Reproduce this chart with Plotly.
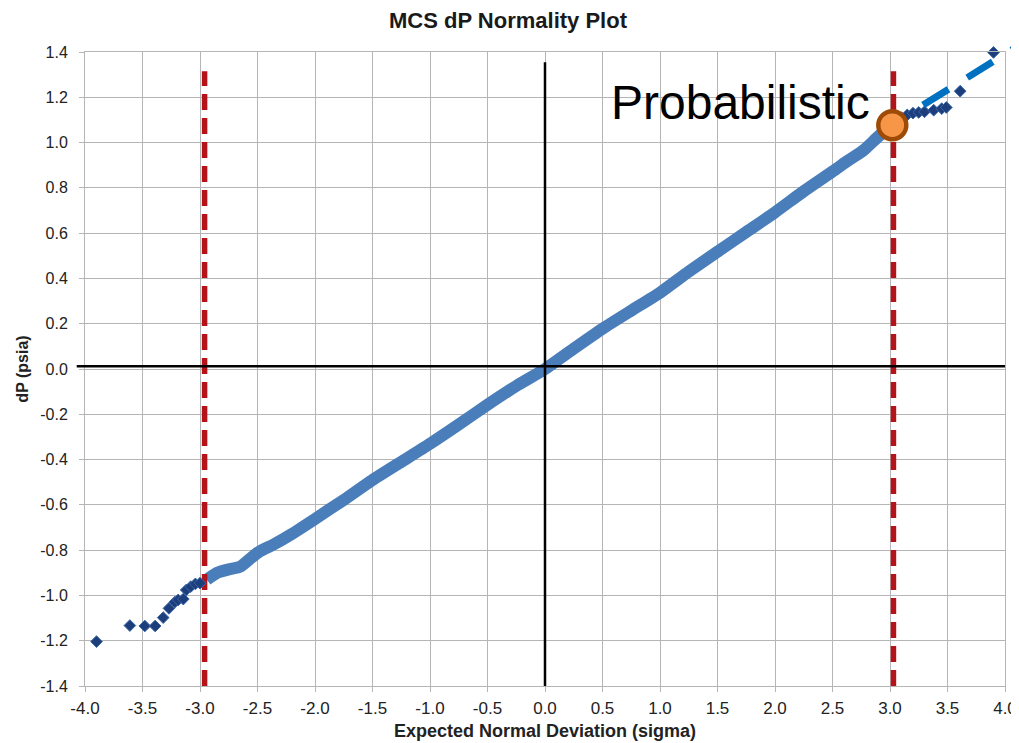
import plotly.graph_objects as go

# ---- data ----
band_x = [-2.94, -2.85, -2.75, -2.65, -2.57, -2.48, -2.36, -2.2, -2.0, -1.75, -1.5, -1.25,
          -1.0, -0.75, -0.5, -0.25, 0.0, 0.25, 0.5, 0.75, 1.0, 1.25, 1.5, 1.75, 2.0,
          2.25, 2.5, 2.62, 2.77, 2.88, 2.97]
band_y = [-0.93, -0.90, -0.885, -0.873, -0.84, -0.805, -0.775, -0.728, -0.662, -0.578, -0.49, -0.41,
          -0.33, -0.245, -0.158, -0.075, 0.0, 0.09, 0.178, 0.258, 0.337, 0.43, 0.518, 0.605, 0.692,
          0.785, 0.872, 0.915, 0.966, 1.018, 1.06]

tail_lo_x = [-3.90, -3.61, -3.48, -3.39, -3.32, -3.27, -3.22, -3.19, -3.145, -3.12, -3.08, -3.04, -3.0]
tail_lo_y = [-1.204, -1.133, -1.135, -1.135, -1.098, -1.057, -1.03, -1.02, -1.016, -0.976, -0.961, -0.949, -0.946]

tail_hi_x = [3.10, 3.15, 3.20, 3.25, 3.30, 3.38, 3.45, 3.49, 3.61, 3.90]
tail_hi_y = [1.11, 1.122, 1.13, 1.133, 1.136, 1.143, 1.15, 1.155, 1.227, 1.398]

sigma_lines_x = [-2.96, 3.03]
sigma_lines_y = [-1.4, 1.315]

point_x = [3.02]
point_y = [1.077]
point_label = "Probabilistic"

axis_cross_top = 1.355

x_ticks = [-4.0, -3.5, -3.0, -2.5, -2.0, -1.5, -1.0, -0.5, 0.0, 0.5, 1.0, 1.5, 2.0, 2.5, 3.0, 3.5, 4.0]
x_tick_labels = ["-4.0", "-3.5", "-3.0", "-2.5", "-2.0", "-1.5", "-1.0", "-0.5", "0.0", "0.5",
                 "1.0", "1.5", "2.0", "2.5", "3.0", "3.5", "4.0"]
y_ticks = [-1.4, -1.2, -1.0, -0.8, -0.6, -0.4, -0.2, 0.0, 0.2, 0.4, 0.6, 0.8, 1.0, 1.2, 1.4]
y_tick_labels = ["-1.4", "-1.2", "-1.0", "-0.8", "-0.6", "-0.4", "-0.2", "0.0", "0.2", "0.4",
                 "0.6", "0.8", "1.0", "1.2", "1.4"]

title_text = "MCS dP Normality Plot"
x_title = "Expected Normal Deviation (sigma)"
y_title = "dP (psia)"

GRID = "#B5B5B5"
SANS = "Liberation Sans, Arial, sans-serif"

fig = go.Figure()

# dense band of points
fig.add_trace(go.Scatter(x=band_x, y=band_y, mode="lines",
                         line=dict(color="#4A7EBB", width=12, shape="spline", smoothing=0.6),
                         hoverinfo="skip", showlegend=False))
# red +/- 3 sigma dashed lines
for sx in sigma_lines_x:
    fig.add_trace(go.Scatter(x=[sx, sx], y=sigma_lines_y, mode="lines",
                             line=dict(color="#B3141C", width=5.5, dash="16px,8px"),
                             showlegend=False))
# sparse tails
fig.add_trace(go.Scatter(x=tail_lo_x + tail_hi_x, y=tail_lo_y + tail_hi_y, mode="markers",
                         marker=dict(symbol="diamond", size=9, color="#1C3F7C",
                                     line=dict(color="#3A64A8", width=1)),
                         cliponaxis=False, showlegend=False))
# highlighted point
fig.add_trace(go.Scatter(x=point_x, y=point_y, mode="markers",
                         marker=dict(symbol="circle", size=28, color="#F79646",
                                     line=dict(color="#9E4B08", width=4.5)),
                         cliponaxis=False, showlegend=False))

fig.add_annotation(x=point_x[0] - 0.176, y=point_y[0] + 0.10, xref="x", yref="y",
                   text=point_label, showarrow=False, xanchor="right", yanchor="middle",
                   font=dict(family=SANS, size=48, color="#000000"))

# black axis-cross lines
fig.add_shape(type="line", xref="paper", yref="y", x0=-0.009, x1=1.0, y0=0.012, y1=0.012,
              line=dict(color="#000000", width=2.5), layer="above")
fig.add_shape(type="line", xref="x", yref="y", x0=0, x1=0, y0=-1.4, y1=axis_cross_top,
              line=dict(color="#000000", width=2.5), layer="above")
# blue dashed trend extension
fig.add_shape(type="line", xref="paper", yref="paper", x0=0.9109, y0=0.9164, x1=1.0272, y1=1.021,
              line=dict(color="#0070C0", width=7, dash="30px,22px"), layer="above")

fig.update_layout(
    width=1019, height=743,
    margin=dict(l=77, r=22, t=44, b=65, autoexpand=False),
    paper_bgcolor="#FFFFFF", plot_bgcolor="#FFFFFF",
    title=dict(text="<b>" + title_text + "</b>", x=0.4907, xanchor="center",
               y=0.984, yref="container", yanchor="middle",
               font=dict(family=SANS, size=22, color="#1A1A1A")),
    xaxis=dict(range=[-4, 4], tickvals=x_ticks, ticktext=x_tick_labels, automargin=False,
               showgrid=True, gridcolor=GRID, gridwidth=1, zeroline=False,
               showline=True, linecolor=GRID, linewidth=1, mirror=True,
               ticks="outside", ticklen=5, tickcolor=GRID, ticklabelstandoff=2,
               tickfont=dict(family=SANS, size=17, color="#222222"),
               title=dict(text="<b>" + x_title + "</b>", standoff=6,
                          font=dict(family=SANS, size=18, color="#222222"))),
    yaxis=dict(range=[-1.4, 1.4], tickvals=y_ticks, ticktext=y_tick_labels, automargin=False,
               showgrid=True, gridcolor=GRID, gridwidth=1, zeroline=False,
               showline=True, linecolor=GRID, linewidth=1, mirror=True,
               ticks="outside", ticklen=5, tickcolor=GRID, ticklabelstandoff=8,
               tickfont=dict(family=SANS, size=16, color="#222222"),
               title=dict(text="<b>" + y_title + "</b>", standoff=7,
                          font=dict(family=SANS, size=16, color="#222222"))),
)

fig.write_html("out.html")
